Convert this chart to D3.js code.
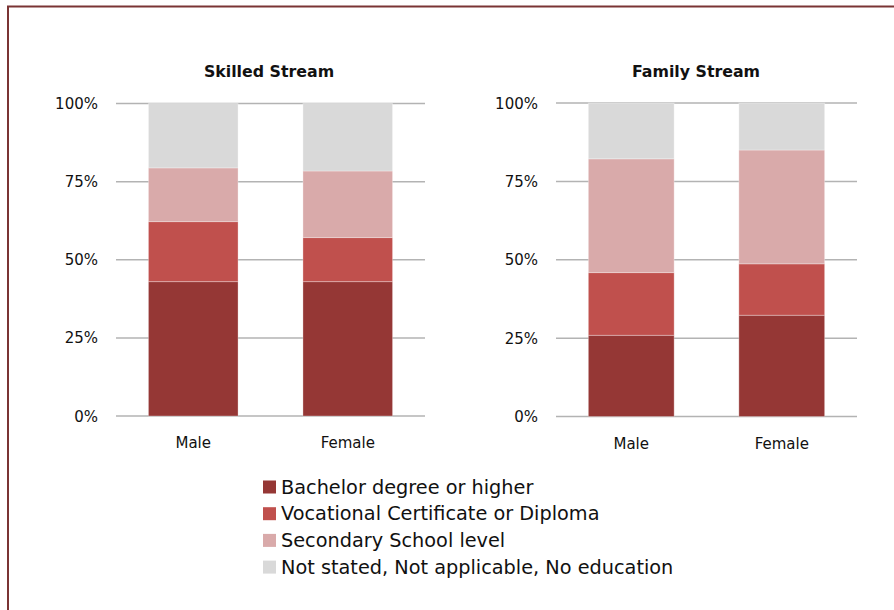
<!DOCTYPE html>
<html>
<head>
<meta charset="utf-8">
<script src="https://cdn.jsdelivr.net/npm/d3@7"></script>
<style>
  html, body { margin: 0; padding: 0; background: #fff; overflow: hidden; }
  svg { display: block; }
  text { font-family: "DejaVu Sans", sans-serif; fill: #111; }
</style>
</head>
<body>
<svg id="chart" width="894" height="610"></svg>
<script>
// Education level of migrants by stream and sex (share of each group, %)
const categories = ["Male", "Female"];
const levels = [
  "Bachelor degree or higher",
  "Vocational Certificate or Diploma",
  "Secondary School level",
  "Not stated, Not applicable, No education"
];
const levelColors = ["#953735", "#c0504d", "#d9aaaa", "#d9d9d9"];

const skilledStream = {
  title: "Skilled Stream",
  // values per level, in the order of `levels`, for Male then Female
  male:   [43.0, 19.2, 17.2, 20.6],
  female: [43.0, 14.1, 21.3, 21.6]
};
const familyStream = {
  title: "Family Stream",
  male:   [25.9, 20.0, 36.3, 17.8],
  female: [32.3, 16.4, 36.3, 15.0]
};
const yTicks = [0, 25, 50, 75, 100];

const svg = d3.select("#chart");

// outer frame
svg.append("rect")
  .attr("x", 8).attr("y", 6.5)
  .attr("width", 920).attr("height", 640)
  .attr("fill", "none")
  .attr("stroke", "#7a3434")
  .attr("stroke-width", 2);

function drawPanel(stream, box) {
  const g = svg.append("g");
  const x = d3.scaleBand().domain(categories)
    .range([box.x0, box.x1]).paddingInner(box.pad).paddingOuter(box.pad / 2);
  const y = d3.scaleLinear().domain([0, 100]).range([box.y0, box.y1]);

  // gridlines
  g.selectAll("line.grid").data(yTicks).join("line")
    .attr("class", "grid")
    .attr("x1", box.x0).attr("x2", box.x1)
    .attr("y1", d => y(d)).attr("y2", d => y(d))
    .attr("stroke", "#b3b3b3").attr("stroke-width", 1.5);

  // y tick labels
  g.selectAll("text.ytick").data(yTicks).join("text")
    .attr("class", "ytick")
    .attr("x", box.x0 - 18).attr("y", d => y(d) + 5.5)
    .attr("text-anchor", "end")
    .style("font-size", "15px")
    .text(d => d + "%");

  // stacked bars
  const rows = categories.map(c => {
    const vals = c === "Male" ? stream.male : stream.female;
    const row = { cat: c };
    levels.forEach((l, i) => row[l] = vals[i]);
    return row;
  });
  const stack = d3.stack().keys(levels)(rows);
  g.selectAll("g.layer").data(stack).join("g")
    .attr("class", "layer")
    .attr("fill", (d, i) => levelColors[i])
    .selectAll("rect").data(d => d).join("rect")
      .attr("x", d => x(d.data.cat))
      .attr("width", x.bandwidth())
      .attr("y", d => y(d[1]))
      .attr("height", d => y(d[0]) - y(d[1]))
      .attr("stroke", "rgba(255,255,255,0.3)")
      .attr("stroke-width", 1);

  // category labels
  g.selectAll("text.xcat").data(categories).join("text")
    .attr("class", "xcat")
    .attr("x", d => x(d) + x.bandwidth() / 2)
    .attr("y", box.y0 + 32)
    .attr("text-anchor", "middle")
    .style("font-size", "15px")
    .text(d => d);

  // panel title
  g.append("text")
    .attr("x", box.titleX).attr("y", 77)
    .attr("text-anchor", "middle")
    .style("font-size", "15.8px").style("font-weight", "bold")
    .text(stream.title);
}

drawPanel(skilledStream, { x0: 116, x1: 425, y0: 416, y1: 103.5, pad: 0.42, titleX: 269 });
drawPanel(familyStream,  { x0: 556, x1: 857, y0: 416.5, y1: 103, pad: 0.43, titleX: 696 });

// legend
const legend = svg.append("g");
const lg = legend.selectAll("g").data(levels).join("g")
  .attr("transform", (d, i) => `translate(263, ${480.5 + i * 26.7})`);
lg.append("rect")
  .attr("width", 13).attr("height", 13)
  .attr("fill", (d, i) => levelColors[i]);
lg.append("text")
  .attr("x", 18).attr("y", 13)
  .style("font-size", "19.3px")
  .text(d => d);
</script>
</body>
</html>
